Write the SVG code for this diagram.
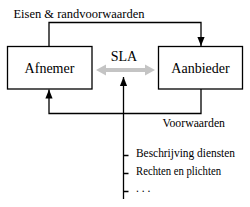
<svg xmlns="http://www.w3.org/2000/svg" width="250" height="207" viewBox="0 0 250 207">
<defs>
<style>
.box{fill:#fff;stroke:#000;stroke-width:1.3}
.lbl{font-family:"Liberation Serif","Times New Roman",serif;font-size:14px;fill:#000}
.sm{font-family:"Liberation Serif","Times New Roman",serif;font-size:11.5px;fill:#000}
.ln{fill:none;stroke:#000;stroke-width:1.3}
</style>
<marker id="ah" viewBox="0 0 10 10" refX="10" refY="5" markerWidth="9" markerHeight="9" markerUnits="userSpaceOnUse" orient="auto">
<path d="M0,1 L10,5 L0,9 z" fill="#000"/>
</marker>
</defs>
<rect width="250" height="207" fill="#fff"/>
<g id="connectors">
<path class="ln" d="M49,46.5 V22.5 H201 V46" marker-end="url(#ah)"/>
<path class="ln" d="M201,89 V113.5 H49 V89.5" marker-end="url(#ah)"/>
<path class="ln" d="M123.5,199 V77" marker-end="url(#ah)"/>
<path class="ln" d="M123.5,155.5 H128.5 M123.5,173.5 H128.5 M123.5,191.5 H128.5"/>
<path d="M96,70 L106,64.5 L106,68 L145,68 L145,64.5 L155,70 L145,75.5 L145,72 L106,72 L106,75.5 z" fill="#c4c4c4"/>
<text class="sm" x="13.5" y="17.5" font-size="12.5" textLength="131" lengthAdjust="spacingAndGlyphs">Eisen &amp; randvoorwaarden</text>
<text class="lbl" x="124" y="61" text-anchor="middle">SLA</text>
<text class="sm" x="162.5" y="126.5" textLength="62.5" lengthAdjust="spacingAndGlyphs">Voorwaarden</text>
<text class="sm" x="136" y="157" textLength="99" lengthAdjust="spacingAndGlyphs">Beschrijving diensten</text>
<text class="sm" x="136" y="175" textLength="85" lengthAdjust="spacingAndGlyphs">Rechten en plichten</text>
<text class="sm" x="136" y="192">. . .</text>
</g>
<g id="afnemer">
<rect class="box" x="7.5" y="46.5" width="84.5" height="42.5"/>
<text class="lbl" x="49.5" y="73" text-anchor="middle">Afnemer</text>
</g>
<g id="aanbieder">
<rect class="box" x="158.5" y="46.5" width="84" height="42.5"/>
<text class="lbl" x="200.5" y="73" text-anchor="middle">Aanbieder</text>
</g>
</svg>
